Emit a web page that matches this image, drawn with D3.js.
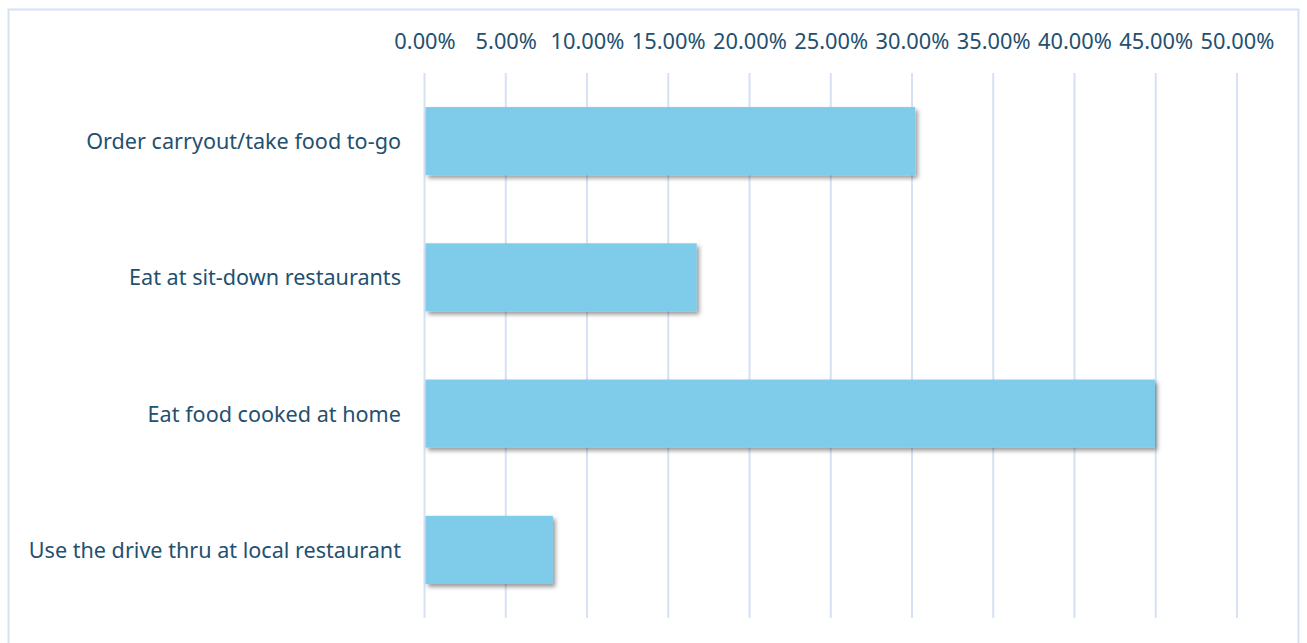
<!DOCTYPE html>
<html>
<head>
<meta charset="utf-8">
<script src="https://cdn.jsdelivr.net/npm/d3@7"></script>
<style>
  html, body { margin: 0; padding: 0; background: #ffffff; }
  svg { display: block; }
</style>
</head>
<body>
<svg id="chart" width="1307" height="643"></svg>
<script>
const categories = [
  "Order carryout/take food to-go",
  "Eat at sit-down restaurants",
  "Eat food cooked at home",
  "Use the drive thru at local restaurant"
];
const values = [0.302, 0.1675, 0.4495, 0.079];
const tickValues = [0, 0.05, 0.10, 0.15, 0.20, 0.25, 0.30, 0.35, 0.40, 0.45, 0.50];

const svg = d3.select("#chart");
const W = 1307, H = 643;
const FONT = "'Noto Sans', sans-serif";
const TEXT = "#24506f";

svg.append("rect").attr("width", W).attr("height", H).attr("fill", "#ffffff");

const defs = svg.append("defs");
const f = defs.append("filter").attr("id", "shadow")
  .attr("x", "-5%").attr("y", "-10%").attr("width", "115%").attr("height", "130%");
f.append("feDropShadow").attr("dx", 2.5).attr("dy", 3).attr("stdDeviation", 2.2)
  .attr("flood-color", "#000").attr("flood-opacity", 0.4);

// chart area border
svg.append("rect")
  .attr("x", 8.5).attr("y", 9.5).attr("width", 1290).attr("height", 660)
  .attr("fill", "none").attr("stroke", "#d5e2f3").attr("stroke-width", 2);

const x = d3.scaleLinear().domain([0, 0.5]).range([424.5, 1237]);
const y = d3.scaleBand().domain(categories).range([73, 618]).paddingInner(0.5).paddingOuter(0.25);

// gridlines
svg.append("g").selectAll("line").data(tickValues).join("line")
  .attr("x1", d => x(d)).attr("x2", d => x(d))
  .attr("y1", 73).attr("y2", 618)
  .attr("stroke", "#d6e2f3").attr("stroke-width", 2);

// top axis labels
const xAxis = d3.axisTop(x).tickValues(tickValues).tickFormat(d3.format(".2%")).tickSize(0).tickPadding(0);
const gx = svg.append("g").attr("transform", "translate(0,49)").call(xAxis);
gx.select(".domain").remove();
gx.selectAll("text").attr("font-family", FONT).attr("font-size", 21.8).attr("fill", TEXT);

// bars
svg.append("g").selectAll("rect").data(values).join("rect")
  .attr("x", x(0) + 1)
  .attr("y", (d, i) => y(categories[i]))
  .attr("width", d => x(d) - x(0) - 1)
  .attr("height", y.bandwidth())
  .attr("fill", "#7ecbea")
  .attr("filter", "url(#shadow)");

// category labels
const yAxis = d3.axisLeft(y).tickSize(0).tickPadding(0);
const gy = svg.append("g").attr("transform", "translate(401,1)").call(yAxis);
gy.select(".domain").remove();
gy.selectAll("text").attr("font-family", FONT).attr("font-size", 21.6).attr("fill", TEXT);
</script>
</body>
</html>
